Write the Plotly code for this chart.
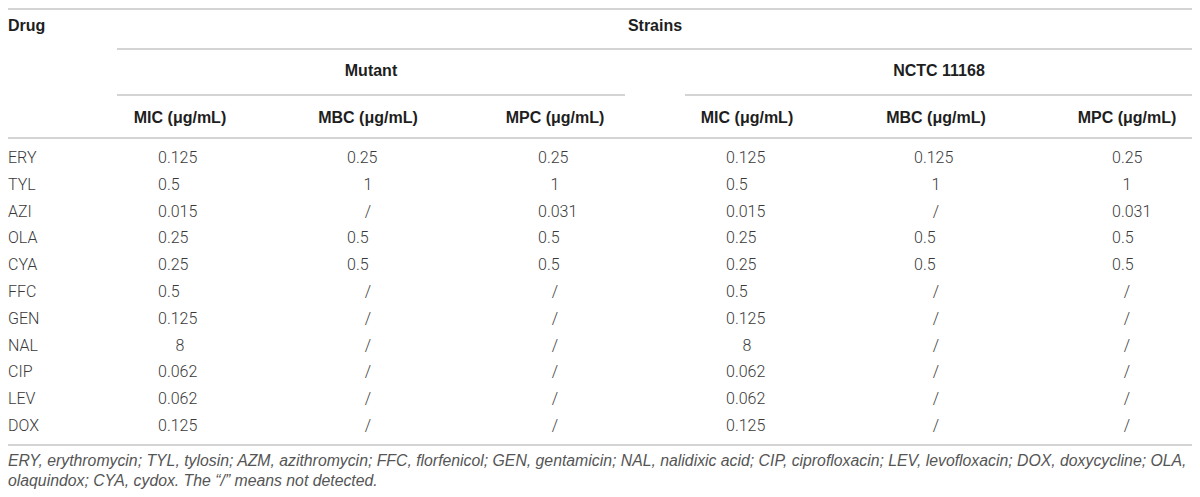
import plotly.graph_objects as go

# table contents
drugs = ["ERY", "TYL", "AZI", "OLA", "CYA", "FFC", "GEN", "NAL", "CIP", "LEV", "DOX"]
mutant_mic = ["0.125", "0.5", "0.015", "0.25", "0.25", "0.5", "0.125", "8", "0.062", "0.062", "0.125"]
mutant_mbc = ["0.25", "1", "/", "0.5", "0.5", "/", "/", "/", "/", "/", "/"]
mutant_mpc = ["0.25", "1", "0.031", "0.5", "0.5", "/", "/", "/", "/", "/", "/"]
nctc_mic = ["0.125", "0.5", "0.015", "0.25", "0.25", "0.5", "0.125", "8", "0.062", "0.062", "0.125"]
nctc_mbc = ["0.125", "1", "/", "0.5", "0.5", "/", "/", "/", "/", "/", "/"]
nctc_mpc = ["0.25", "1", "0.031", "0.5", "0.5", "/", "/", "/", "/", "/", "/"]

col_headers = ["MIC (μg/mL)", "MBC (μg/mL)", "MPC (μg/mL)"] * 2
group_labels = ["Mutant", "NCTC 11168"]
footnote = ["ERY, erythromycin; TYL, tylosin; AZM, azithromycin; FFC, florfenicol; GEN, gentamicin; NAL, nalidixic acid; CIP, ciprofloxacin; LEV, levofloxacin; DOX, doxycycline; OLA,",
            "olaquindox; CYA, cydox. The \u201c/\u201d means not detected."]

# layout: axis units = page pixels (page body has an 8px margin)
PAGE_W, PAGE_H, PAD = 1200, 497, 8
col_center = [180, 368, 555, 747, 936, 1127]
col_left = [159, 348, 539, 727, 915, 1113]
group_span = [(117, 625), (685, 1193)]
row0, row_h = 159, 26.8
x_left = PAD
LIGHT = "Roboto"
BOLD = "Liberation Sans"
TXT = "#3a3a3a"
HEAD = "#1e1e1e"
RULE = "#d4d4d4"

fig = go.Figure()

def add_text(xs, ys, texts, pos, family, size, color, weight=None, style=None):
    fig.add_trace(go.Scatter(
        x=xs, y=ys, text=texts, mode="text", textposition=pos,
        textfont=dict(family=family, size=size, color=color, weight=weight, style=style),
        cliponaxis=False, hoverinfo="skip", showlegend=False,
    ))

rows_y = [row0 + i * row_h for i in range(len(drugs))]

# drug names
add_text([x_left] * len(drugs), rows_y, drugs, "middle right", LIGHT, 16, TXT, weight=300)

# value columns: decimals share a left edge, integers and "/" are centred
for j, col in enumerate([mutant_mic, mutant_mbc, mutant_mpc, nctc_mic, nctc_mbc, nctc_mpc]):
    xs, pos = [], []
    for v in col:
        if "." in v:
            xs.append(col_left[j] - 1)
            pos.append("middle right")
        else:
            xs.append(col_center[j])
            pos.append("middle center")
    add_text(xs, rows_y, col, pos, LIGHT, 16, TXT, weight=300)

# headers
add_text([x_left], [27], ["Drug"], "middle right", BOLD, 16, HEAD, weight="bold")
add_text([(group_span[0][0] + group_span[1][1]) / 2], [27], ["Strains"], "middle center", BOLD, 16, HEAD, weight="bold")
add_text([(a + b) / 2 for a, b in group_span], [72, 72], group_labels, "middle center", BOLD, 16, HEAD, weight="bold")
add_text(col_center, [119] * 6, col_headers, "middle center", BOLD, 16, HEAD, weight="bold")

# footnote
add_text([x_left, x_left], [462, 482], footnote, "middle right", "Liberation Sans", 15.8, "#555555", style="italic")

# rules
rules = [(PAD, 1193, 9), (group_span[0][0], 1193, 49), (group_span[0][0], group_span[0][1], 95),
         (group_span[1][0], group_span[1][1], 95), (PAD, 1193, 138), (PAD, 1193, 445)]
for x0, x1, y in rules:
    fig.add_shape(type="line", x0=x0, x1=x1, y0=y, y1=y, xref="x", yref="y",
                  line=dict(color=RULE, width=2), layer="below")

fig.update_layout(
    width=PAGE_W - 2 * PAD, height=PAGE_H - 2 * PAD,
    margin=dict(l=0, r=0, t=0, b=0),
    paper_bgcolor="white", plot_bgcolor="white",
    xaxis=dict(range=[PAD, PAGE_W - PAD], visible=False, fixedrange=True),
    yaxis=dict(range=[PAGE_H - PAD, PAD], visible=False, fixedrange=True),
)

fig.write_html("out.html")
